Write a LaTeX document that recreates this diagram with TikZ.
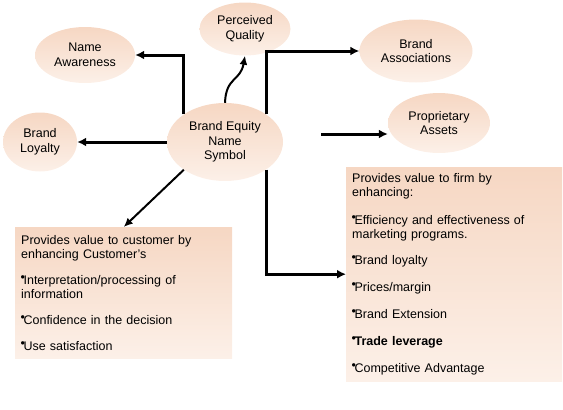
\documentclass[tikz,border=0pt]{standalone}
\usepackage{fontspec}
\setmainfont{Liberation Sans}
\usetikzlibrary{shapes.geometric,arrows.meta}
\definecolor{durazno}{RGB}{246,215,195}
\definecolor{duraznoclaro}{RGB}{252,240,232}
\newcommand{\vineta}{\raisebox{2.5pt}{\fontsize{12.5}{12.5}\selectfont\kern-0.5pt\textbullet\kern-1.5pt}}
\tikzset{
  elipse/.style 2 args={ellipse,minimum width=#1,minimum height=#2,inner sep=1pt,align=center,top color=durazno,bottom color=duraznoclaro,font=\fontsize{12.5}{14.5}\selectfont},
  caja/.style 2 args={anchor=north west,text width=#1,minimum height=#2,inner sep=6pt,align=left,top color=durazno,bottom color=duraznoclaro,font=\fontsize{12.5}{14}\selectfont},
  arr/.style={line width=3pt,-{Latex[length=9pt,width=9pt]}},
  arrfino/.style={line width=2pt,-{Latex[length=9pt,width=8pt]}}
}
\begin{document}
\begin{tikzpicture}[x=1pt,y=-1pt]
	\useasboundingbox (0,0) rectangle (563,410);
	\node[elipse={116pt}{78pt}] (marca) at (225,142) {Brand Equity\\Name\\Symbol};
	\node[elipse={100pt}{56pt}] (nombre) at (85,55) {Name\\Awareness};
	\node[elipse={91pt}{53pt}] (calidad) at (245,29) {Perceived\\Quality};
	\node[elipse={74pt}{59pt}] (lealtad) at (40,142) {Brand\\Loyalty};
	\node[elipse={113pt}{63pt}] (asociaciones) at (416,51) {Brand\\Associations};
	\node[elipse={102pt}{60pt}] (activos) at (439,123) {Proprietary\\Assets};

	\node[caja={205pt}{131pt}] (cliente) at (15,227) {Provides value to customer by\\enhancing Customer's\\[12pt]
		\vineta Interpretation/processing of\\information\\[12pt]
		\vineta Confidence in the decision\\[12pt]
		\vineta Use satisfaction};
	\node[caja={204pt}{214pt}] (firma) at (346,167) {Provides value to firm by\\enhancing:\\[14pt]
		\vineta Efficiency and effectiveness of\\marketing programs.\\[12pt]
		\vineta Brand loyalty\\[13pt]
		\vineta Prices/margin\\[13pt]
		\vineta Brand Extension\\[13pt]
		\vineta \textbf{Trade leverage}\\[13pt]
		\vineta Competitive Advantage};
	\coordinate (auxactivos) at (321,134);

	\draw[arr] (marca.north west) |- (nombre.east);
	\draw[arr] (marca.north east) |- (asociaciones.west);
	\draw[arr] (marca.west) -- (lealtad.east);
	\draw[arr] (auxactivos) -- (auxactivos -| activos.west);
	\draw[arrfino] (marca.north) to[out=88,in=-100,looseness=1.3] (calidad.south);
	\draw[arrfino] (marca.south west) -- (cliente.north);
	\draw[arr] (marca.south east) |- (firma.west);
\end{tikzpicture}
\end{document}
